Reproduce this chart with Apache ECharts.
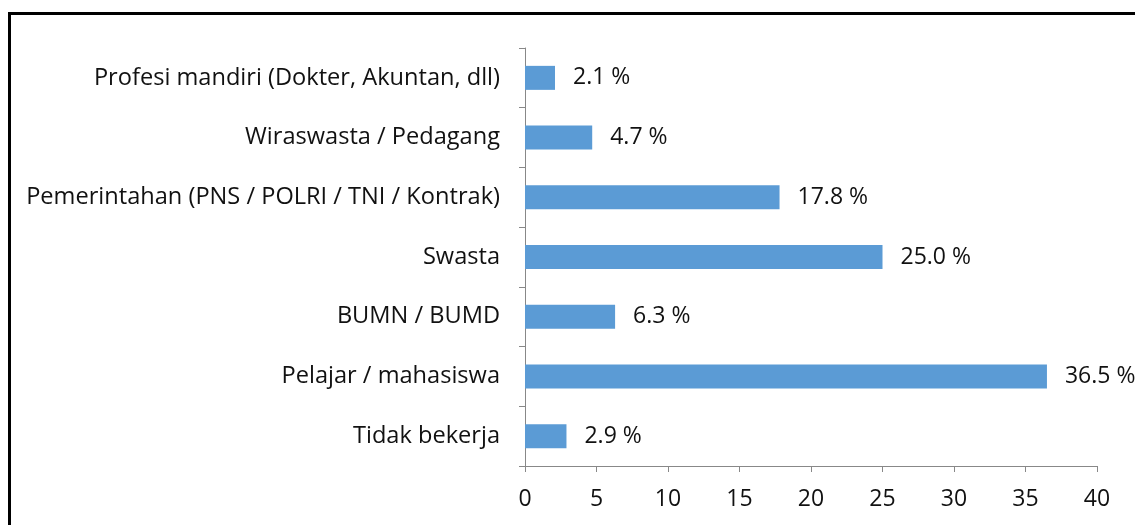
<!DOCTYPE html>
<html>
<head>
<meta charset="utf-8">
<script src="https://cdn.jsdelivr.net/npm/echarts@6/dist/echarts.min.js"></script>
<style>
  html, body { margin: 0; padding: 0; background: #fff; }
  #chart { width: 1135px; height: 525px; }
</style>
</head>
<body>
<div id="chart"></div>
<script>
// categories, top to bottom
const categories = [
  'Profesi mandiri (Dokter, Akuntan, dll)',
  'Wiraswasta / Pedagang',
  'Pemerintahan (PNS / POLRI / TNI / Kontrak)',
  'Swasta',
  'BUMN / BUMD',
  'Pelajar / mahasiswa',
  'Tidak bekerja'
];
const percentages = [2.1, 4.7, 17.8, 25.0, 6.3, 36.5, 2.9];
const xTicks = [0, 5, 10, 15, 20, 25, 30, 35, 40];

const fontFamily = '"Open Sans", sans-serif';
const axisGray = '#888888';

const chart = echarts.init(document.getElementById('chart'));

chart.setOption({
  animation: false,
  grid: { left: 525, right: 38, top: 48, bottom: 59 },
  graphic: [
    {
      // black frame around the chart
      type: 'rect',
      shape: { x: 9.5, y: 13.5, width: 1300, height: 700 },
      style: { fill: 'none', stroke: '#000', lineWidth: 3 },
      silent: true
    }
  ],
  xAxis: {
    type: 'value',
    min: xTicks[0],
    max: xTicks[xTicks.length - 1],
    interval: 5,
    splitLine: { show: false },
    axisLine: { show: true, lineStyle: { color: axisGray, width: 1 } },
    axisTick: { show: true, length: 6, lineStyle: { color: axisGray } },
    axisLabel: { color: '#111', fontSize: 23, fontFamily: fontFamily, margin: 22 }
  },
  yAxis: {
    type: 'category',
    data: categories,
    inverse: true,
    axisLine: { show: true, lineStyle: { color: axisGray, width: 1 } },
    axisTick: { show: true, length: 6, lineStyle: { color: axisGray } },
    axisLabel: { color: '#111', fontSize: 23.6, fontFamily: fontFamily, margin: 25 }
  },
  series: [
    {
      type: 'bar',
      data: percentages,
      barWidth: 24,
      itemStyle: { color: '#5B9BD5' },
      label: {
        show: true,
        position: 'right',
        distance: 18,
        color: '#111',
        fontSize: 23,
        fontFamily: fontFamily,
        formatter: (p) => p.value.toFixed(1) + ' %'
      }
    }
  ]
});
</script>
</body>
</html>
